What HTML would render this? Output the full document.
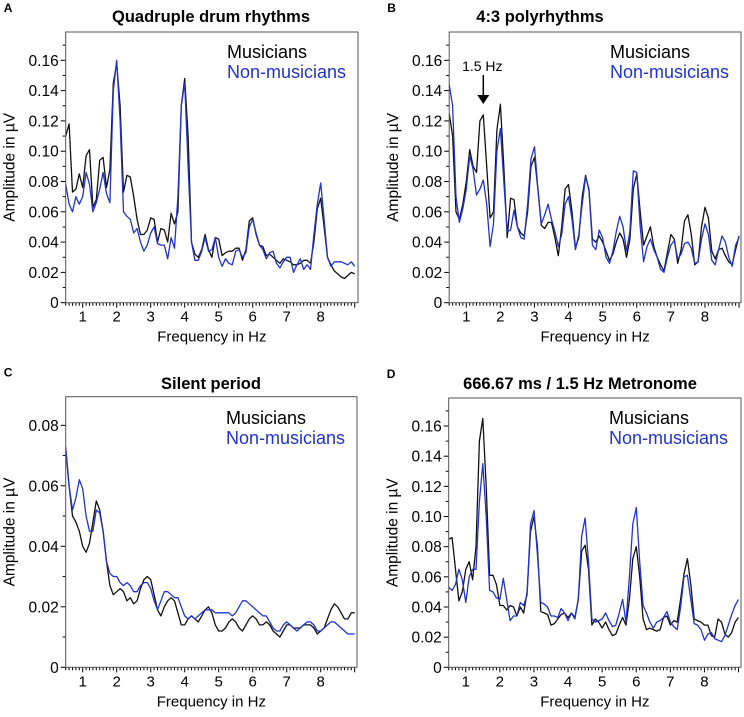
<!DOCTYPE html>
<html><head><meta charset="utf-8"><style>
body{margin:0;background:#fff;}
svg{display:block;font-family:"Liberation Sans",Arial,sans-serif;}
</style></head><body>
<svg id="fig" width="744" height="717" viewBox="0 0 744 717" xmlns="http://www.w3.org/2000/svg"></svg>
<script>
const freqStart = 0.5, freqStep = 0.1;
const aMus = [0.11,0.118,0.073,0.075,0.085,0.076,0.097,0.101,0.063,0.068,0.094,0.096,0.076,0.088,0.145,0.158,0.13,0.073,0.084,0.083,0.07,0.055,0.045,0.045,0.048,0.056,0.055,0.04,0.049,0.048,0.04,0.059,0.052,0.06,0.13,0.148,0.11,0.04,0.032,0.03,0.035,0.045,0.035,0.03,0.043,0.042,0.031,0.033,0.034,0.034,0.036,0.036,0.028,0.035,0.054,0.056,0.045,0.038,0.037,0.031,0.032,0.03,0.028,0.026,0.029,0.028,0.027,0.025,0.025,0.026,0.028,0.028,0.026,0.04,0.062,0.069,0.05,0.03,0.025,0.021,0.019,0.017,0.016,0.018,0.02,0.019];
const aNon = [0.078,0.065,0.06,0.07,0.065,0.07,0.086,0.078,0.06,0.066,0.075,0.086,0.072,0.066,0.14,0.16,0.12,0.06,0.057,0.055,0.046,0.049,0.04,0.034,0.038,0.046,0.05,0.039,0.038,0.038,0.029,0.043,0.036,0.07,0.13,0.145,0.09,0.04,0.028,0.028,0.034,0.043,0.034,0.035,0.043,0.03,0.024,0.029,0.026,0.025,0.034,0.035,0.03,0.033,0.05,0.055,0.046,0.038,0.035,0.029,0.033,0.034,0.026,0.023,0.027,0.03,0.03,0.02,0.025,0.029,0.022,0.025,0.022,0.045,0.065,0.079,0.055,0.03,0.024,0.027,0.027,0.027,0.026,0.025,0.027,0.024];
const bMus = [0.125,0.11,0.06,0.055,0.065,0.08,0.101,0.09,0.086,0.12,0.124,0.09,0.056,0.06,0.114,0.131,0.09,0.043,0.069,0.068,0.05,0.046,0.044,0.06,0.09,0.096,0.075,0.051,0.049,0.053,0.053,0.043,0.031,0.05,0.075,0.078,0.06,0.036,0.043,0.07,0.084,0.074,0.042,0.04,0.044,0.04,0.034,0.028,0.032,0.04,0.046,0.042,0.03,0.042,0.075,0.085,0.06,0.038,0.044,0.05,0.037,0.03,0.025,0.021,0.033,0.045,0.042,0.026,0.035,0.054,0.058,0.045,0.025,0.027,0.05,0.063,0.056,0.034,0.029,0.035,0.036,0.031,0.027,0.025,0.035,0.044];
const bNon = [0.144,0.13,0.07,0.053,0.062,0.075,0.097,0.088,0.071,0.075,0.081,0.065,0.037,0.052,0.1,0.115,0.08,0.047,0.048,0.061,0.05,0.043,0.042,0.065,0.095,0.103,0.075,0.052,0.058,0.065,0.055,0.047,0.037,0.045,0.065,0.07,0.055,0.035,0.045,0.065,0.083,0.075,0.038,0.035,0.048,0.043,0.03,0.026,0.034,0.047,0.057,0.05,0.034,0.047,0.087,0.086,0.05,0.027,0.037,0.042,0.035,0.03,0.022,0.02,0.03,0.038,0.041,0.029,0.032,0.039,0.04,0.036,0.026,0.027,0.042,0.052,0.045,0.028,0.025,0.035,0.044,0.04,0.03,0.024,0.038,0.043];
const cMus = [0.072,0.06,0.05,0.048,0.045,0.04,0.038,0.041,0.048,0.055,0.052,0.045,0.035,0.027,0.024,0.025,0.026,0.025,0.022,0.023,0.021,0.022,0.026,0.029,0.03,0.029,0.024,0.019,0.017,0.02,0.022,0.023,0.022,0.018,0.014,0.014,0.016,0.017,0.016,0.015,0.017,0.019,0.02,0.018,0.014,0.012,0.012,0.013,0.015,0.016,0.015,0.013,0.012,0.014,0.016,0.017,0.016,0.014,0.014,0.015,0.014,0.012,0.011,0.01,0.012,0.014,0.014,0.013,0.013,0.013,0.014,0.014,0.014,0.013,0.011,0.012,0.013,0.016,0.019,0.021,0.02,0.018,0.016,0.016,0.018,0.018];
const cNon = [0.073,0.06,0.052,0.056,0.062,0.059,0.05,0.045,0.045,0.052,0.051,0.045,0.035,0.031,0.03,0.03,0.028,0.027,0.028,0.027,0.025,0.025,0.027,0.028,0.028,0.026,0.022,0.019,0.022,0.025,0.025,0.024,0.023,0.023,0.02,0.017,0.016,0.017,0.016,0.017,0.018,0.019,0.019,0.019,0.018,0.018,0.018,0.018,0.018,0.017,0.018,0.02,0.022,0.022,0.021,0.02,0.019,0.018,0.017,0.017,0.015,0.013,0.012,0.012,0.014,0.015,0.014,0.013,0.012,0.013,0.014,0.015,0.015,0.014,0.012,0.012,0.013,0.014,0.015,0.015,0.014,0.013,0.012,0.011,0.011,0.011];
const dMus = [0.085,0.086,0.065,0.044,0.05,0.065,0.07,0.058,0.08,0.15,0.165,0.12,0.061,0.061,0.055,0.041,0.041,0.038,0.041,0.04,0.034,0.04,0.036,0.05,0.09,0.1,0.08,0.037,0.036,0.035,0.028,0.029,0.032,0.035,0.036,0.033,0.036,0.033,0.045,0.077,0.081,0.065,0.028,0.032,0.03,0.026,0.03,0.025,0.021,0.022,0.028,0.033,0.028,0.045,0.072,0.08,0.06,0.032,0.025,0.026,0.025,0.024,0.025,0.033,0.034,0.028,0.031,0.03,0.045,0.062,0.072,0.055,0.032,0.031,0.03,0.028,0.028,0.021,0.02,0.032,0.03,0.022,0.02,0.023,0.03,0.033];
const dNon = [0.053,0.051,0.055,0.065,0.058,0.043,0.06,0.065,0.065,0.11,0.135,0.1,0.051,0.05,0.046,0.045,0.059,0.045,0.031,0.034,0.034,0.043,0.041,0.048,0.095,0.104,0.075,0.043,0.042,0.04,0.034,0.034,0.033,0.039,0.036,0.031,0.036,0.032,0.045,0.087,0.099,0.07,0.032,0.03,0.031,0.032,0.036,0.031,0.027,0.028,0.036,0.045,0.03,0.06,0.095,0.106,0.07,0.041,0.036,0.03,0.026,0.03,0.031,0.033,0.037,0.03,0.027,0.025,0.04,0.06,0.061,0.045,0.029,0.028,0.025,0.018,0.022,0.023,0.019,0.018,0.017,0.021,0.028,0.035,0.041,0.045];
const xTickLabels = [1,2,3,4,5,6,7,8];
const yTicksMain = [0,0.02,0.04,0.06,0.08,0.1,0.12,0.14,0.16];
const yTickLabelsMain = ["0","0.02","0.04","0.06","0.08","0.10","0.12","0.14","0.16"];
const yTicksC = [0,0.02,0.04,0.06,0.08];
const yTickLabelsC = ["0","0.02","0.04","0.06","0.08"];

const NS = "http://www.w3.org/2000/svg";
const svg = document.getElementById('fig');
function mk(tag, attrs, parent){const e=document.createElementNS(NS,tag);for(const k in attrs)e.setAttribute(k,attrs[k]);(parent||svg).appendChild(e);return e;}

const panels = [
 {id:'a',letter:'A',title:'Quadruple drum rhythms',L:65.7,R:358,T:32,B:302.7,k:1515,ph:34,mus:aMus,non:aNon,yt:yTicksMain,yl:yTickLabelsMain,ymax:0.17,lx:227,ly:58,tx:211,ty:22},
 {id:'b',letter:'B',title:'4:3 polyrhythms',L:449.2,R:741,T:32,B:302.7,k:1515,ph:34.1,mus:bMus,non:bNon,yt:yTicksMain,yl:yTickLabelsMain,ymax:0.17,lx:610,ly:58,tx:540,ty:22},
 {id:'c',letter:'C',title:'Silent period',L:65.7,R:357,T:396.7,B:667.3,k:3025,ph:34,mus:cMus,non:cNon,yt:yTicksC,yl:yTickLabelsC,ymax:0.085,lx:226,ly:424,tx:211,ty:389},
 {id:'d',letter:'D',title:'666.67 ms / 1.5 Hz Metronome',L:448.7,R:741,T:398,B:667.3,k:1508,ph:34.1,mus:dMus,non:dNon,yt:yTicksMain,yl:yTickLabelsMain,ymax:0.17,lx:609,ly:424,tx:580,ty:389}
];

panels.forEach(p=>{
  const g = mk('g',{});
  
  
  const xs = f => p.L + (f-0.5)*p.ph;
  const ys = v => p.B - v*p.k;
  const lt = mk('text',{x:p.L-62,y:p.T-20,'font-size':12,'font-weight':'bold'},g); lt.textContent=p.letter;
   
  const tt = mk('text',{x:p.tx,y:p.ty,'font-size':16.5,'font-weight':'bold','text-anchor':'middle'},g); tt.textContent=p.title;
   
  const cp = mk('clipPath',{id:'clip'+p.id},g);
  mk('rect',{x:p.L,y:p.T,width:p.R-p.L,height:p.B-p.T},cp);
  const minorCount = Math.floor(p.ymax/0.01+1e-6);
  for(let i=0;i<=minorCount;i++){const v=i*0.01;const y=ys(v);
    const t=mk('line',{x1:p.L-(i%2?3:5),x2:p.L,y1:y,y2:y,stroke:'#000','stroke-width':1},g);
     }
  p.yt.forEach((v,i)=>{const t=mk('text',{x:p.L-7,y:ys(v)+5.5,'font-size':15.5,'text-anchor':'end'},g);t.textContent=p.yl[i];
     });
  for(let i=5;i<=90;i++){const f=i/10;const x=xs(f);if(x>p.R)break;
    const t=mk('line',{x1:x,x2:x,y1:p.B,y2:p.B+(i%10===0?5:3),stroke:'#000','stroke-width':1},g);
     }
  xTickLabels.forEach(f=>{const t=mk('text',{x:xs(f),y:p.B+19,'font-size':15,'text-anchor':'middle'},g);t.textContent=f;
     });
  const xa=mk('text',{x:(p.L+p.R)/2,y:p.B+39,'font-size':15,'text-anchor':'middle'},g);xa.textContent='Frequency in Hz';
   
  const cy=(p.T+p.B)/2;
  const ya=mk('text',{x:p.L-51,y:cy,'font-size':15.5,'text-anchor':'middle',transform:`rotate(-90 ${p.L-51} ${cy})`},g);ya.textContent='Amplitude in µV';
   
  [[p.mus,'#111111','musicians'],[p.non,'#2233cc','non-musicians']].forEach(([arr,col,nm])=>{
    const pts = arr.map((v,i)=>xs(freqStart+i*freqStep).toFixed(1)+','+ys(v).toFixed(1)).join(' ');
    const pl = mk('polyline',{points:pts,fill:'none',stroke:col,'stroke-width':1.3,'stroke-linejoin':'round','clip-path':`url(#clip${p.id})`},g);
     
  });
  const box=mk('rect',{x:p.L,y:p.T,width:p.R-p.L,height:p.B-p.T,fill:'none',stroke:'#555','stroke-width':1},g);
   
  const l1=mk('text',{x:p.lx,y:p.ly,'font-size':18,fill:'#000'},g);l1.textContent='Musicians';
   
  const l2=mk('text',{x:p.lx,y:p.ly+20,'font-size':18,fill:'#2233cc'},g);l2.textContent='Non-musicians';
   
  if(p.id==='b'){
    const ax=xs(1.5);
    const at=mk('text',{x:ax-1,y:71,'font-size':14,'text-anchor':'middle'},g);at.textContent='1.5 Hz';
     
    const al=mk('line',{x1:ax,x2:ax,y1:75,y2:97,stroke:'#000','stroke-width':1.5},g);
     
    const ah=mk('polygon',{points:`${ax-6},95 ${ax+6},95 ${ax},104`,fill:'#000'},g);
     
  }
});
</script>
</body></html>
